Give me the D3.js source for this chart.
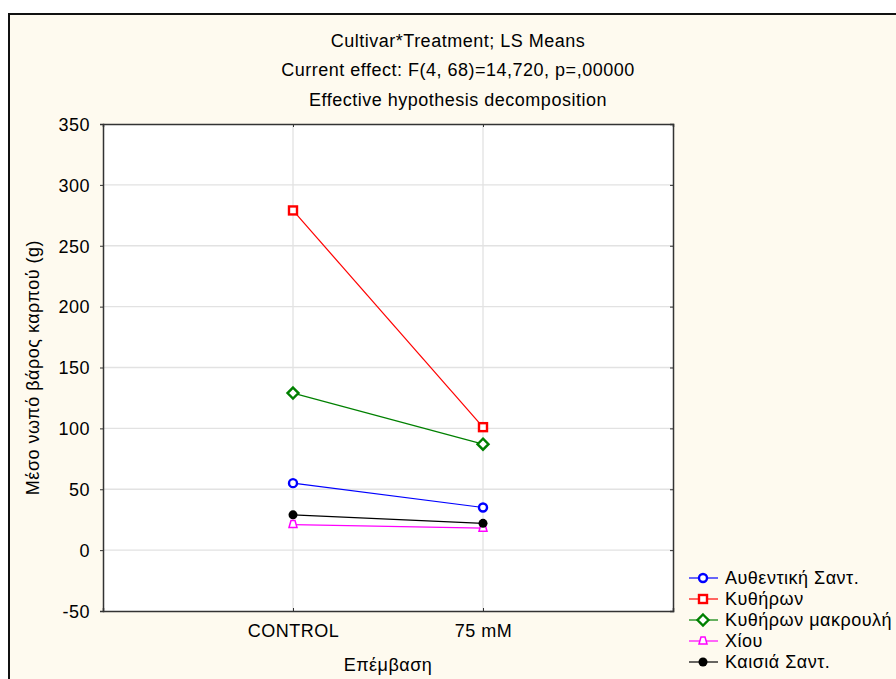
<!DOCTYPE html>
<html><head><meta charset="utf-8">
<script src="https://cdn.jsdelivr.net/npm/d3@7"></script>
<style>body{margin:0;background:#fff}svg{display:block}text{font-family:"Liberation Sans",Arial,sans-serif;fill:#000}</style>
</head><body>
<svg id="c" width="896" height="679"></svg>
<script>
const categories = ["CONTROL", "75 mM"];
const seriesNames = ["Αυθεντική Σαντ.", "Κυθήρων", "Κυθήρων μακρουλή", "Χίου", "Καισιά Σαντ."];
const seriesColors = ["#0000ff", "#ff0000", "#008000", "#ff00ff", "#000000"];
const seriesMarkers = ["circle", "square", "diamond", "triangle", "dot"];
const valsAuth = [55, 35];
const valsKyth = [279, 101];
const valsKythMak = [129, 87];
const valsChiou = [21, 18];
const valsKais = [29, 22];
const yTicks = [-50, 0, 50, 100, 150, 200, 250, 300, 350];
const titles = ["Cultivar*Treatment; LS Means", "Current effect: F(4, 68)=14,720, p=,00000", "Effective hypothesis decomposition"];
const series = [valsAuth, valsKyth, valsKythMak, valsChiou, valsKais];

const FS = "18px", LS = "0.5px";
const svg = d3.select("#c");
svg.append("rect").attr("x",9).attr("y",14).attr("width",900).attr("height",700)
  .attr("fill","#fefaef").attr("stroke","#111").attr("stroke-width",2);

const L=103, R=673, T=124, B=611;
const x = d3.scalePoint().domain(categories).range([L,R]).padding(1);
const y = d3.scaleLinear().domain([-50,350]).range([B,T]);

svg.append("rect").attr("x",L).attr("y",T).attr("width",R-L).attr("height",B-T).attr("fill","#fff");
// grid
svg.append("g").selectAll("line").data(yTicks.slice(1,-1)).join("line")
  .attr("x1",L).attr("x2",R).attr("y1",d=>y(d)).attr("y2",d=>y(d))
  .attr("stroke","#e2e2e2").attr("stroke-width",1.3);
svg.append("g").selectAll("line").data(categories).join("line")
  .attr("x1",d=>x(d)).attr("x2",d=>x(d)).attr("y1",T).attr("y2",B)
  .attr("stroke","#e2e2e2").attr("stroke-width",1.3);

function styleText(sel){ sel.style("font-size",FS).style("letter-spacing",LS).attr("fill","#000"); }

// axes
const yl = svg.append("g").attr("transform",`translate(${L},0)`).call(d3.axisLeft(y).tickValues(yTicks).tickSize(3).tickPadding(10).tickFormat(d=>String(d)));
yl.selectAll("text").call(styleText).attr("dy","0.35em");
const yr = svg.append("g").attr("transform",`translate(${R},0)`).call(d3.axisLeft(y).tickValues(yTicks).tickSize(3).tickFormat(""));
const xb = svg.append("g").attr("transform",`translate(0,${B})`).call(d3.axisTop(x).tickSize(3).tickFormat(""));
const xt = svg.append("g").attr("transform",`translate(0,${T})`).call(d3.axisBottom(x).tickSize(3).tickFormat(""));
const xl = svg.append("g").attr("transform",`translate(0,${B})`).call(d3.axisBottom(x).tickSize(0).tickPadding(13));
xl.selectAll("text").call(styleText);
xl.select(".domain").remove();
[yl,yr,xb,xt].forEach(g=>{g.select(".domain").attr("stroke","#333").attr("stroke-width",1.5);g.selectAll(".tick line").attr("stroke","#333");});

// titles
titles.forEach((t,i)=>svg.append("text").attr("x",458).attr("y",46.5+i*29.5).attr("text-anchor","middle").call(styleText).text(t));
svg.append("text").attr("x",(L+R)/2).attr("y",671).attr("text-anchor","middle").call(styleText).text("Επέμβαση");
svg.append("text").attr("transform",`translate(39,${(T+B)/2}) rotate(-90)`).attr("text-anchor","middle").call(styleText).text("Μέσο νωπό βάρος καρπού (g)");

function marker(g, type, color, cx, cy){
  if(type==="circle") g.append("circle").attr("cx",cx).attr("cy",cy).attr("r",4).attr("fill","#fff").attr("stroke",color).attr("stroke-width",2.4);
  else if(type==="square") g.append("rect").attr("x",cx-4).attr("y",cy-4).attr("width",8).attr("height",8).attr("fill","#fff").attr("stroke",color).attr("stroke-width",2.4);
  else if(type==="diamond") g.append("path").attr("d",`M${cx},${cy-5.5}L${cx+5.5},${cy}L${cx},${cy+5.5}L${cx-5.5},${cy}Z`).attr("fill","#fff").attr("stroke",color).attr("stroke-width",2.4);
  else if(type==="triangle") g.append("path").attr("d",`M${cx-2},${cy-4}L${cx+2},${cy-4}L${cx+4},${cy+3}L${cx-4},${cy+3}Z`).attr("fill","#fff").attr("stroke",color).attr("stroke-width",1.5);
  else g.append("circle").attr("cx",cx).attr("cy",cy).attr("r",4.5).attr("fill",color);
}

const line = d3.line().x((d,i)=>x(categories[i])).y(d=>y(d));
const order = [3,4,0,2,1];
order.forEach(si=>{
  const g = svg.append("g");
  g.append("path").attr("d",line(series[si])).attr("fill","none").attr("stroke",seriesColors[si]).attr("stroke-width",1.2);
  series[si].forEach((v,i)=>marker(g, seriesMarkers[si], seriesColors[si], x(categories[i]), y(v)));
});

// legend
seriesNames.forEach((n,i)=>{
  const g = svg.append("g");
  const ly = 578 + i*21;
  g.append("line").attr("x1",689).attr("x2",718).attr("y1",ly).attr("y2",ly).attr("stroke",seriesColors[i]).attr("stroke-width",1.2);
  marker(g, seriesMarkers[i], seriesColors[i], 703, ly);
  g.append("text").attr("x",725).attr("y",ly).attr("dy","0.35em").call(styleText).text(n);
});
</script>
</body></html>
